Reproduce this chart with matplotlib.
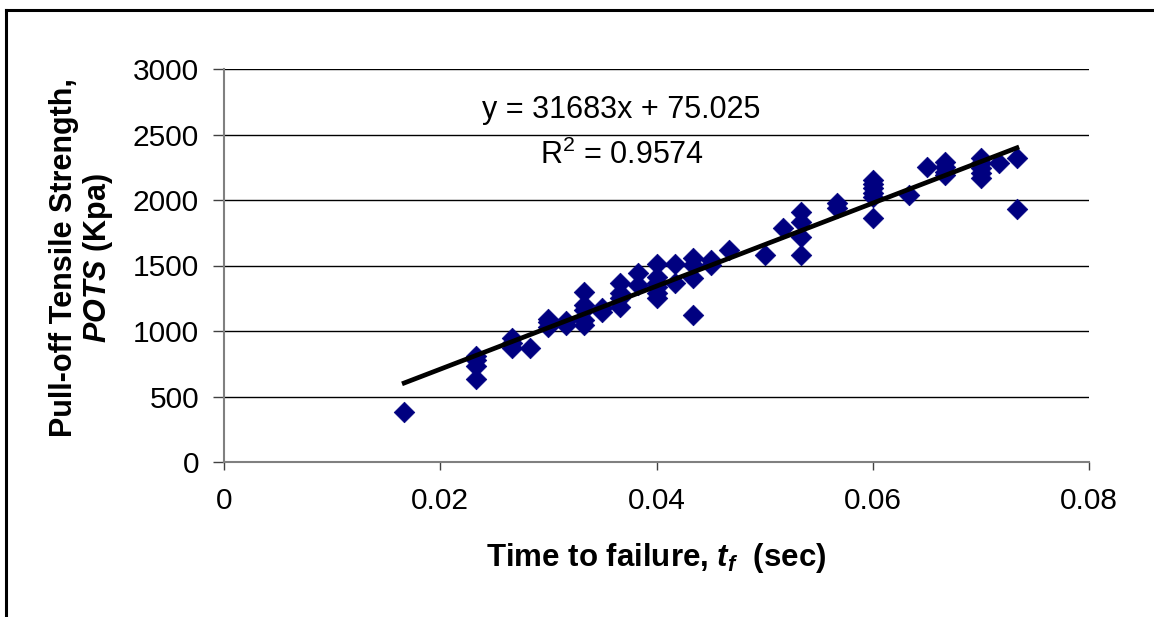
import matplotlib
matplotlib.use("Agg")
import matplotlib.pyplot as plt
from matplotlib.lines import Line2D
import numpy as np

plt.rcParams['font.family'] = ['Liberation Sans', 'DejaVu Sans']
plt.rcParams['mathtext.fontset'] = 'custom'
plt.rcParams['mathtext.it'] = 'Liberation Sans:italic:bold'
plt.rcParams['mathtext.rm'] = 'Liberation Sans:bold'
plt.rcParams['mathtext.bf'] = 'Liberation Sans:bold'

# time to failure in frames of 1/600 s, and POTS readings (Kpa) at each time
frames = [10, 14, 16, 17, 18, 19, 20, 21, 22, 23, 24, 25, 26, 27, 28,
          30, 31, 32, 34, 36, 38, 39, 40, 42, 43, 44]
pots = [
    [380],
    [810, 775, 735, 630],
    [945, 905, 870],
    [870],
    [1095, 1065, 1030],
    [1075, 1045],
    [1295, 1195, 1160, 1085, 1045],
    [1175, 1145],
    [1370, 1290, 1255, 1185],
    [1440, 1350],
    [1515, 1410, 1370, 1335, 1290, 1250],
    [1515, 1365],
    [1555, 1505, 1405, 1120],
    [1540, 1505],
    [1615],
    [1580],
    [1790],
    [1905, 1830, 1720, 1580],
    [1975, 1940],
    [2150, 2120, 2090, 2050, 2020, 1860],
    [2035],
    [2250],
    [2290, 2250, 2215, 2190],
    [2320, 2280, 2245, 2205, 2170],
    [2280],
    [2320, 1930],
]
slope = 31683
intercept = 75.025
r2 = 0.9574

t = []
y = []
for f, vals in zip(frames, pots):
    for v in vals:
        t.append(f / 600)
        y.append(v)
t = np.array(t)
y = np.array(y)

W, H = 1154, 617
fig = plt.figure(figsize=(W / 100, H / 100), dpi=100)
ax = fig.add_axes([224 / W, 155 / H, 865 / W, 393 / H])

ax.scatter(t, y, marker='D', s=110, color='#000080', edgecolor='#000080',
           linewidth=0.5, zorder=3)
xt = np.array([t.min(), t.max()])
ax.plot(xt, slope * xt + intercept, color='black', lw=3.4, zorder=4)

ax.set_xlim(0, 0.08)
ax.set_ylim(0, 3000)
ax.set_xticks([0, 0.02, 0.04, 0.06, 0.08])
ax.set_xticklabels(['0', '0.02', '0.04', '0.06', '0.08'])
ax.set_yticks(range(0, 3001, 500))
ax.yaxis.grid(True, color='black', lw=1)
ax.set_axisbelow(True)
for s in ['top', 'right']:
    ax.spines[s].set_visible(False)
for s in ['left', 'bottom']:
    ax.spines[s].set_color('#808080')
    ax.spines[s].set_linewidth(1.5)
ax.tick_params(axis='y', length=8, width=1, color='#404040', pad=10, labelsize=21.5)
ax.tick_params(axis='x', length=6, width=1, color='#404040', pad=12, labelsize=21.5)

fig.text(621 / W, 1 - 110 / H, 'y = 31683x + 75.025', fontsize=22,
         ha='center', va='center')
fig.text(622 / W, 1 - 155 / H, 'R$^{\\mathregular{2}}$ = ' + str(r2), fontsize=22,
         ha='center', va='center', math_fontfamily='dejavusans')

fig.text(656 / W, 1 - 558 / H, 'Time to failure, $t_f$  (sec)', fontsize=22.5,
         fontweight='bold', ha='center', va='center')
fig.text(64 / W, 1 - 258 / H, 'Pull-off Tensile Strength,', fontsize=22,
         fontweight='bold', rotation=90, ha='center', va='center')
fig.text(98 / W, 1 - 258 / H, '$POTS$ (Kpa)', fontsize=22,
         fontweight='bold', rotation=90, ha='center', va='center')

# outer frame (left and top edges visible)
fig.add_artist(Line2D([6 / W, 6 / W], [0, 1 - 10 / H], transform=fig.transFigure,
                      color='black', lw=2.2))
fig.add_artist(Line2D([6 / W, 1], [1 - 10 / H, 1 - 10 / H], transform=fig.transFigure,
                      color='black', lw=2.2))

fig.savefig('out.png', dpi=100)
